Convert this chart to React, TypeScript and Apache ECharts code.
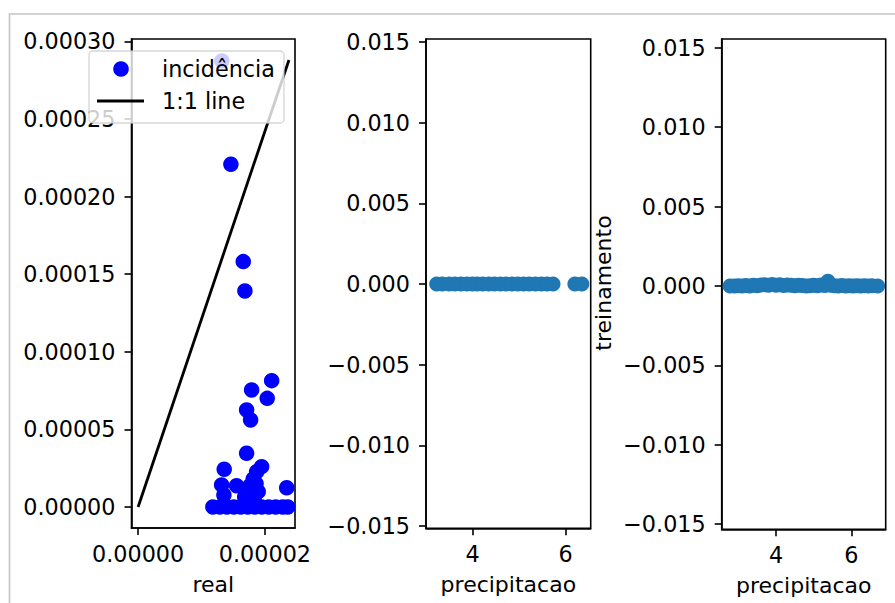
import React, { useEffect, useRef } from "react";
import * as echarts from "echarts";

// ---- data ----
// panel 1: real vs predicted incidence
const incidenciaReal: number[] = [
  1.321e-5, 1.463e-5, 1.658e-5, 1.684e-5, 2.106e-5, 1.79e-5, 2.036e-5, 1.711e-5, 1.774e-5,
  1.711e-5, 1.358e-5, 1.948e-5, 1.317e-5, 1.553e-5, 1.815e-5, 1.869e-5, 1.894e-5, 2.343e-5,
  1.353e-5, 1.76e-5, 1.68e-5, 1.83e-5, 1.86e-5, 1.78e-5,
  1.179e-5, 1.29e-5, 1.4e-5, 1.51e-5, 1.62e-5, 1.73e-5, 1.84e-5, 1.95e-5, 2.06e-5, 2.17e-5,
  2.28e-5, 2.36e-5,
];
const incidenciaPred: number[] = [
  2.874e-4, 2.208e-4, 1.581e-4, 1.392e-4, 8.14e-5, 7.54e-5, 7.0e-5, 6.25e-5, 5.61e-5,
  3.46e-5, 2.43e-5, 2.6e-5, 1.42e-5, 1.37e-5, 1.8e-5, 2.27e-5, 9.9e-6, 1.24e-5,
  7.7e-6, 1.35e-5, 6.4e-6, 5.0e-6, 1.5e-5, 3.0e-6,
  0, 0, 0, 0, 0, 0, 0, 0, 0, 0,
  0, 0,
];
const lineX: number[] = [0, 2.379e-5];
const lineY: number[] = [0, 2.88e-4];

// panel 2: precipitacao vs value (all zero)
const precip2: number[] = [
  3.23, 3.35, 3.5, 3.62, 3.75, 3.88, 4.0, 4.1, 4.22, 4.35, 4.47, 4.6, 4.72, 4.85, 4.97,
  5.1, 5.22, 5.35, 5.48, 5.6, 5.73, 6.2, 6.35,
];
const valores2: number[] = precip2.map(() => 0);

// panel 3: precipitacao vs treinamento
const precip3: number[] = [
  2.78, 2.9, 3.0, 3.1, 3.2, 3.3, 3.4, 3.5, 3.6, 3.7, 3.8, 3.9, 4.0, 4.1, 4.2, 4.3, 4.4, 4.5,
  4.6, 4.7, 4.8, 4.9, 5.0, 5.1, 5.2, 5.3, 5.38, 5.45, 5.55, 5.65, 5.75, 5.85, 5.95, 6.05,
  6.15, 6.25, 6.35, 6.45, 6.55, 6.7,
];
const treinamento: number[] = [
  0, 0, 2e-5, 0, 3e-5, 0, 5e-5, 2e-5, 6e-5, 8e-5, 4e-5, 1e-4, 5e-5, 8e-5, 3e-5, 6e-5, 4e-5, 2e-5,
  5e-5, 3e-5, 0, 2e-5, 4e-5, 2e-5, 6e-5, 3e-5, 3e-4, 5e-5, 2e-5, 0, 3e-5, 0, 2e-5, 0,
  1e-5, 0, 2e-5, 0, 1e-5, 0,
];

// tick values
const p1XTicks: number[] = [0, 0.00002];
const p1YTicks: number[] = [0, 0.00005, 0.0001, 0.00015, 0.0002, 0.00025, 0.0003];
const p23XTicks: number[] = [4, 6];
const p23YTicks: number[] = [-0.015, -0.01, -0.005, 0, 0.005, 0.01, 0.015];

const FONT = '"DejaVu Sans", sans-serif';
const TICK_FS = 22.3;

const fmt = (digits: number) => (v: number) => {
  const s = Math.abs(v) < 1e-12 ? (0).toFixed(digits) : v.toFixed(digits);
  return s.replace("-", "\u2212");
};

function xAxis(gridIndex: number, min: number, max: number, ticks: number[], f: (v: number) => string, name: string) {
  return {
    type: "value",
    gridIndex,
    min,
    max,
    name,
    nameLocation: "middle",
    nameGap: 45,
    nameTextStyle: { fontSize: 22, color: "#000", fontFamily: FONT },
    axisLine: { show: true, onZero: false, lineStyle: { color: "#000", width: 1.6 } },
    axisTick: { show: true, length: 7, customValues: ticks, lineStyle: { color: "#000", width: 1.6 } },
    axisLabel: { show: true, customValues: ticks, formatter: f, margin: 15, fontSize: TICK_FS, color: "#000", fontFamily: FONT },
    splitLine: { show: false },
  };
}

function yAxis(gridIndex: number, min: number, max: number, ticks: number[], f: (v: number) => string) {
  return {
    type: "value",
    gridIndex,
    min,
    max,
    axisLine: { show: true, onZero: false, lineStyle: { color: "#000", width: 1.6 } },
    axisTick: { show: true, length: 7, customValues: ticks, lineStyle: { color: "#000", width: 1.6 } },
    axisLabel: { show: true, customValues: ticks, formatter: f, margin: 16, fontSize: TICK_FS, color: "#000", fontFamily: FONT },
    splitLine: { show: false },
  };
}

const gridBase = {
  show: true,
  borderColor: "#000",
  borderWidth: 1.6,
  backgroundColor: "transparent",
  containLabel: false,
  outerBoundsMode: "none",
};

export default function App() {
  const ref = useRef<HTMLDivElement>(null);
  useEffect(() => {
    if (!ref.current) return;
    const chart = echarts.init(ref.current, null, { renderer: "svg" });
    const option: any = {
      animation: false,
      backgroundColor: "#fff",
      textStyle: { fontFamily: FONT },
      grid: [
        { ...gridBase, left: 131.5, top: 39, width: 163.5, height: 489 },
        { ...gridBase, left: 426, top: 39, width: 164.7, height: 489.3 },
        { ...gridBase, left: 721.7, top: 39, width: 164, height: 490.3 },
      ],
      xAxis: [
        xAxis(0, -1.04e-6, 2.474e-5, p1XTicks, fmt(5), "real"),
        xAxis(1, 3.0, 6.54, p23XTicks, (v: number) => String(Math.round(v)), "precipitacao"),
        xAxis(2, 2.558, 6.914, p23XTicks, (v: number) => String(Math.round(v)), "precipitacao"),
      ],
      yAxis: [
        yAxis(0, -1.353e-5, 3.015e-4, p1YTicks, fmt(5)),
        yAxis(1, -0.01514, 0.01519, p23YTicks, fmt(3)),
        yAxis(2, -0.01532, 0.01555, p23YTicks, fmt(3)),
      ],
      series: [
        {
          type: "scatter",
          name: "incidência",
          xAxisIndex: 0,
          yAxisIndex: 0,
          symbolSize: 15.5,
          itemStyle: { color: "#0000ff", opacity: 1 },
          data: incidenciaReal.map((x, i) => [x, incidenciaPred[i]]),
          z: 2,
        },
        {
          type: "line",
          name: "1:1 line",
          xAxisIndex: 0,
          yAxisIndex: 0,
          showSymbol: false,
          symbol: "none",
          lineStyle: { color: "#000", width: 2.8 },
          data: lineX.map((x, i) => [x, lineY[i]]),
          z: 3,
        },
        {
          type: "scatter",
          xAxisIndex: 1,
          yAxisIndex: 1,
          symbolSize: 15,
          itemStyle: { color: "#1f77b4", opacity: 1 },
          data: precip2.map((x, i) => [x, valores2[i]]),
        },
        {
          type: "scatter",
          xAxisIndex: 2,
          yAxisIndex: 2,
          symbolSize: 15,
          itemStyle: { color: "#1f77b4", opacity: 1 },
          data: precip3.map((x, i) => [x, treinamento[i]]),
        },
      ],
      graphic: [
        // outer frame of the screenshot
        {
          type: "polyline",
          z: 200,
          zlevel: 1,
          silent: true,
          shape: { points: [[9.5, 610], [9.5, 14], [900, 14]] },
          style: { stroke: "#c4c4c4", lineWidth: 1.6, fill: null },
        },
        // legend
        {
          type: "rect",
          z: 100,
          zlevel: 1,
          silent: true,
          shape: { x: 89, y: 51, width: 195, height: 72, r: 4 },
          style: { fill: "rgba(255,255,255,0.8)", stroke: "rgba(204,204,204,0.8)", lineWidth: 1.3 },
        },
        {
          type: "circle",
          z: 101,
          zlevel: 1,
          silent: true,
          shape: { cx: 121, cy: 69, r: 7.8 },
          style: { fill: "#0000ff" },
        },
        {
          type: "line",
          z: 101,
          zlevel: 1,
          silent: true,
          shape: { x1: 97, y1: 101, x2: 144, y2: 101 },
          style: { stroke: "#000", lineWidth: 2.8 },
        },
        {
          type: "text",
          z: 101,
          zlevel: 1,
          silent: true,
          x: 162,
          y: 69,
          style: { text: "incidência", fontSize: TICK_FS, fontFamily: FONT, fill: "#000", align: "left", verticalAlign: "middle" },
        },
        {
          type: "text",
          z: 101,
          zlevel: 1,
          silent: true,
          x: 162,
          y: 101,
          style: { text: "1:1 line", fontSize: TICK_FS, fontFamily: FONT, fill: "#000", align: "left", verticalAlign: "middle" },
        },
        // y label of the third panel
        {
          type: "text",
          z: 101,
          silent: true,
          x: 603,
          y: 283,
          rotation: Math.PI / 2,
          style: { text: "treinamento", fontSize: 22, fontFamily: FONT, fill: "#000", align: "center", verticalAlign: "middle" },
        },
      ],
    };
    chart.setOption(option);
    return () => chart.dispose();
  }, []);
  return (
    <div
      ref={ref}
      style={{ position: "absolute", left: 0, top: 0, width: 895, height: 603 }}
    />
  );
}
